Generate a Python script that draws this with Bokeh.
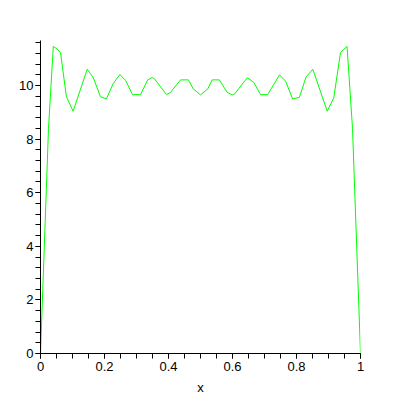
from bokeh.plotting import figure
from bokeh.models import Range1d, FixedTicker
from bokeh.embed import file_html
from bokeh.resources import INLINE

xs = [0.0, 0.025, 0.040, 0.052, 0.0625, 0.081, 0.102, 0.146, 0.165, 0.1875,
      0.206, 0.227, 0.248, 0.266, 0.2875, 0.3125, 0.335, 0.349, 0.356, 0.394,
      0.406, 0.4375, 0.4625, 0.477, 0.5, 0.523, 0.5365, 0.559, 0.583, 0.599,
      0.607, 0.646, 0.6665, 0.6875, 0.710, 0.747, 0.766, 0.788, 0.809, 0.830,
      0.851, 0.896, 0.9165, 0.9375, 0.948, 0.958, 0.975, 1.0]
ys = [0.0, 8.40, 11.46, 11.36, 11.23, 9.58, 9.04, 10.61, 10.29, 9.58,
      9.50, 10.07, 10.41, 10.19, 9.66, 9.66, 10.21, 10.30, 10.25, 9.66,
      9.74, 10.21, 10.21, 9.88, 9.65, 9.88, 10.21, 10.21, 9.75, 9.65,
      9.69, 10.29, 10.12, 9.66, 9.66, 10.40, 10.16, 9.50, 9.56, 10.32,
      10.61, 9.04, 9.54, 11.23, 11.35, 11.46, 8.40, 0.0]

x_major = [0, 0.2, 0.4, 0.6, 0.8, 1]
x_major_labels = {0: "0", 0.2: "0.2", 0.4: "0.4", 0.6: "0.6", 0.8: "0.8", 1: "1"}
x_minor = [round(i * 0.05, 2) for i in range(21)]
y_major = [0, 2, 4, 6, 8, 10]
y_minor = [round(i * 0.4, 1) for i in range(30)]

p = figure(width=392, height=398, output_backend="svg", toolbar_location=None,
           x_range=Range1d(0, 1), y_range=Range1d(0, 11.68),
           min_border_left=40, min_border_right=32, min_border_top=40,
           min_border_bottom=45)
p.outline_line_color = None
p.xgrid.visible = False
p.ygrid.visible = False
p.background_fill_color = "white"
p.border_fill_color = "white"

p.line(xs, ys, line_color="#00ff00", line_width=1)

for ax in (p.xaxis[0], p.yaxis[0]):
    ax.axis_line_color = "black"
    ax.major_tick_line_color = "black"
    ax.minor_tick_line_color = "black"
    ax.major_tick_in = 0
    ax.minor_tick_in = 0
    ax.major_tick_out = 5
    ax.minor_tick_out = 5
    ax.major_label_text_font = "Liberation Sans"
    ax.major_label_text_font_size = "13px"
    ax.major_label_text_color = "black"

p.xaxis[0].ticker = FixedTicker(ticks=x_major, minor_ticks=x_minor)
p.xaxis[0].major_label_overrides = x_major_labels
p.xaxis[0].major_label_standoff = 3
p.xaxis[0].axis_label = "x"
p.xaxis[0].axis_label_text_font = "Liberation Sans"
p.xaxis[0].axis_label_text_font_size = "13px"
p.xaxis[0].axis_label_text_font_style = "normal"
p.xaxis[0].axis_label_text_color = "black"
p.xaxis[0].axis_label_standoff = 6

p.yaxis[0].ticker = FixedTicker(ticks=y_major, minor_ticks=y_minor)
p.yaxis[0].major_label_standoff = 2

open("out.html", "w").write(file_html(p, INLINE))
